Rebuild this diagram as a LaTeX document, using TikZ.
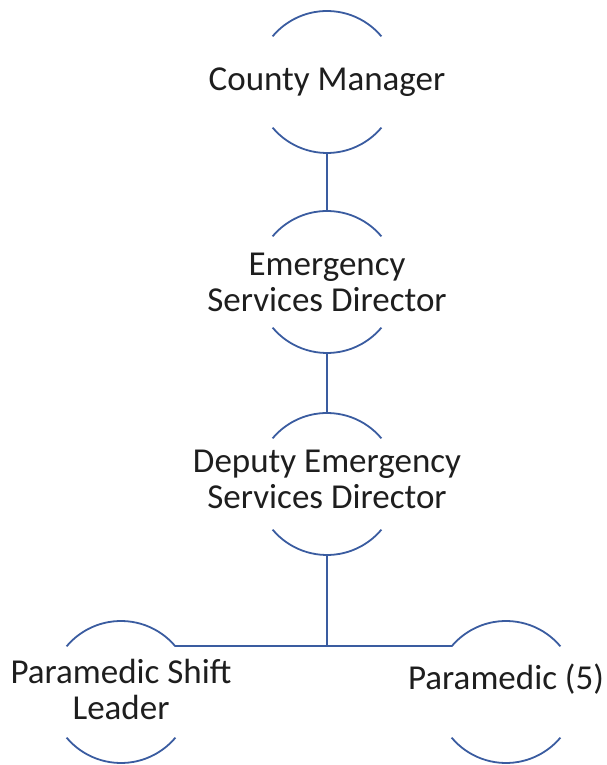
\documentclass[tikz,border=0pt]{standalone}
\usepackage{fontspec}
\setmainfont{Carlito}
\usetikzlibrary{math}
\definecolor{lineblue}{RGB}{58,92,160}
\definecolor{textgray}{RGB}{30,30,30}
\tikzset{
  link/.style={draw=lineblue, line width=1.8pt},
  ring/.style={circle, minimum size=2*\R pt, inner sep=0pt, outer sep=0pt},
  lbl/.style={align=center, text=textgray, inner sep=0pt, font=\fontsize{35}{36}\selectfont}
}

\begin{document}
\begin{tikzpicture}[x=1pt,y=1pt]
\tikzmath{
\R=71;
\xm=327;
\yA=683;
\yB=483;
\yC=281;
\yD=73;
}
\useasboundingbox (0,0) rectangle (606,765);

\node[ring, label={[lbl]center:County Manager}] (cm) at (\xm,\yA) {};
\node[ring, label={[lbl]center:Emergency\\Services Director}] (esd) at (\xm,\yB) {};
\node[ring, label={[lbl,yshift=5pt]center:Deputy Emergency\\Services Director}] (desd) at (\xm,\yC) {};
\node[ring, label={[lbl,yshift=3pt]center:Paramedic Shift\\Leader}] (psl) at (121,\yD) {};
\node[ring, label={[lbl,xshift=0pt,yshift=13pt]center:Paramedic (5)}] (pm) at (506,\yD) {};

\foreach \n in {cm,esd,desd,psl,pm}{
  \draw[link] (\n.40) arc[start angle=40, end angle=140, radius=\R];
  \draw[link] (\n.220) arc[start angle=220, end angle=320, radius=\R];
}

\draw[link] (cm.south) -- (esd.north);
\draw[link] (esd.south) -- (desd.north);
\draw[link] (desd.south) |- (psl.40);
\draw[link] (desd.south) |- (pm.140);

\end{tikzpicture}
\end{document}
